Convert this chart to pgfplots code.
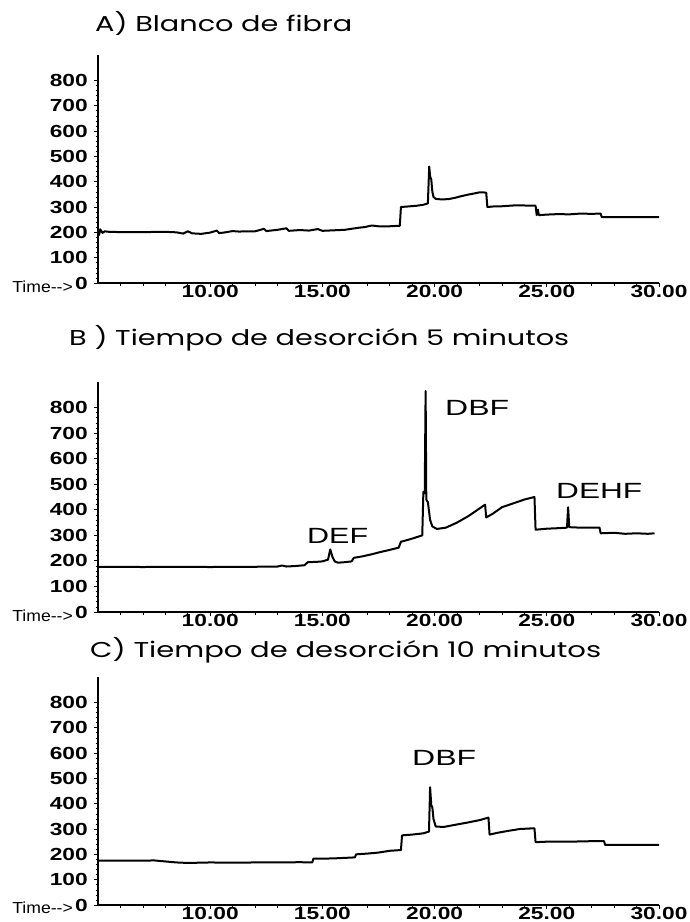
\documentclass[border=0pt]{standalone}
\usepackage{fontspec}
\setmainfont{Liberation Sans}
\newfontfamily\tickfont[FakeStretch=1.3]{Liberation Sans Bold}
\newfontfamily\timefont[FakeStretch=1.1]{Liberation Sans}
\newfontfamily\titlefont{Poppins}
\usepackage{graphicx}
\usepackage{pgfplots}
\pgfplotsset{compat=1.18}

\pgfplotsset{chrom/.style={
  scale only axis, width=561pt,
  xmin=5, xmax=30, ymin=0, ymax=900,
  axis x line*=bottom, axis y line*=left,
  axis line style={line width=1.6pt, -},
  xtick={10,15,20,25,30},
  xticklabels={10.00,15.00,20.00,25.00,30.00},
  minor xtick={6,7,8,9,11,12,13,14,16,17,18,19,21,22,23,24,26,27,28,29},
  ytick={0,100,...,800},
  minor y tick num=4,
  tick align=outside,
  major tick length=4pt, minor tick length=2.5pt,
  every tick/.style={line width=0.8pt, black},
  every minor tick/.style={line width=0.6pt, black},
  ticklabel style={font=\tickfont\fontsize{17.5}{17.5}\selectfont},
  xticklabel style={inner ysep=0pt, yshift=1.5pt},
  yticklabel style={inner xsep=6pt},
  /pgf/number format/assume math mode=true,
}}
\pgfplotsset{trace/.style={black, line width=2pt, line join=round, mark=none}}

\begin{document}
\begin{tikzpicture}
\useasboundingbox (0pt,0pt) rectangle (689pt,-922pt);

% ---------- Panel A ----------
\begin{axis}[chrom, height=228pt, at={(98pt,-283pt)}, anchor=south west]
\addplot[trace] coordinates {
(5.0,205) (5.05,190) (5.1,212) (5.2,198) (5.3,204) (5.5,202) (6,201) (7,201) (8,202)
(8.5,200) (8.8,195) (9.0,204) (9.2,196) (9.6,194) (10,199) (10.3,207) (10.4,197)
(10.6,199) (11,205) (11.3,203) (11.5,204) (12,204) (12.4,214) (12.5,205) (13,210)
(13.4,216) (13.5,206) (14,209) (14.4,207) (14.8,213) (15,206) (15.5,208) (16,210)
(16.3,214) (16.6,218) (16.9,221) (17.2,227) (17.5,224) (18,224) (18.45,226)
(18.5,300) (18.8,302) (19.2,305) (19.5,309) (19.7,314) (19.76,460) (19.8,420)
(19.85,410) (19.9,360) (19.95,340) (20.05,332) (20.3,330) (20.6,331) (20.9,336)
(21.2,343) (21.5,349) (21.8,354) (22.0,358) (22.3,357) (22.35,300) (22.6,302)
(23,303) (23.5,306) (24,306) (24.5,305) (24.55,268) (24.6,290) (24.65,268)
(25,270) (25.5,272) (26,271) (26.5,274) (27,273) (27.4,274) (27.45,260)
(28,260) (29,260) (30,260)
};
\end{axis}

% ---------- Panel B ----------
\begin{axis}[chrom, height=230pt, at={(98pt,-612pt)}, anchor=south west]
\addplot[trace] coordinates {
(5,177) (6,177) (7,176) (8,177) (9,177) (10,176) (11,177) (12,177) (13,178)
(13.2,182) (13.4,178) (13.8,180) (14.2,183) (14.35,195) (14.7,196) (15.0,198)
(15.25,205) (15.35,245) (15.45,215) (15.55,198) (15.7,193) (16.0,195) (16.3,198)
(16.4,212) (16.8,218) (17.2,226) (17.6,235) (18.0,243) (18.4,252) (18.5,275)
(18.8,282) (19.1,290) (19.45,300) (19.5,470) (19.56,465) (19.6,865) (19.63,440)
(19.7,430) (19.8,360) (19.9,335) (20.1,325) (20.5,330) (21.0,350) (21.5,375)
(22.0,405) (22.25,420) (22.3,370) (22.6,385) (23.0,410) (23.5,425) (24.0,440)
(24.45,450) (24.5,322) (25.0,326) (25.5,328) (25.9,330) (25.95,410) (26.0,332)
(26.5,330) (27.0,330) (27.35,330) (27.4,308) (28,310) (28.5,306) (29,308)
(29.5,306) (29.8,308)
};
\end{axis}

% ---------- Panel C ----------
\begin{axis}[chrom, height=228pt, at={(98pt,-905pt)}, anchor=south west]
\addplot[trace] coordinates {
(5,175) (6,175) (7,175) (7.5,176) (8,172) (8.5,168) (9,166) (10,168) (11,167)
(12,168) (13,168) (14,169) (14.55,168) (14.6,183) (15,183) (15.5,184) (16,186)
(16.45,188) (16.5,200) (17,203) (17.5,207) (18,214) (18.5,217) (18.55,275)
(19,278) (19.5,283) (19.75,290) (19.8,465) (19.85,395) (19.9,385) (19.95,340)
(20.05,310) (20.4,308) (21,318) (21.5,326) (22,335) (22.4,345) (22.45,278)
(22.8,285) (23.3,293) (23.8,300) (24.45,303) (24.5,248) (25,250) (26,250)
(27,252) (27.55,252) (27.6,237) (28,237) (29,237) (30,237)
};
\end{axis}

% ---------- Titles ----------
\node[anchor=base west, inner sep=0pt] at (95pt,-31pt)
  {\resizebox{257pt}{\height}{\titlefont\fontsize{21.5}{21.5}\selectfont A) Blanco de fibra}};
\node[anchor=base west, inner sep=0pt] at (69pt,-345pt)
  {\resizebox{500pt}{\height}{\titlefont\fontsize{21.5}{21.5}\selectfont B ) Tiempo de desorción 5 minutos}};
\node[anchor=base west, inner sep=0pt] at (90pt,-657pt)
  {\resizebox{511pt}{\height}{\titlefont\fontsize{21.5}{21.5}\selectfont C) Tiempo de desorción 10 minutos}};

% ---------- Time--> labels ----------
\foreach \yy in {292,621,913}
  \node[anchor=base east, inner sep=0pt] at (73pt,-\yy pt)
    {\timefont\fontsize{16}{16}\selectfont Time-{}-{}>};

% ---------- Peak labels ----------
\node[anchor=base west, inner sep=0pt] at (445pt,-415pt)
  {\resizebox{64pt}{\height}{\fontsize{22}{22}\selectfont DBF}};
\node[anchor=base west, inner sep=0pt] at (307pt,-543pt)
  {\resizebox{61pt}{\height}{\fontsize{22}{22}\selectfont DEF}};
\node[anchor=base west, inner sep=0pt] at (556pt,-498pt)
  {\resizebox{86pt}{\height}{\fontsize{22}{22}\selectfont DEHF}};
\node[anchor=base west, inner sep=0pt] at (412pt,-765pt)
  {\resizebox{64pt}{\height}{\fontsize{22}{22}\selectfont DBF}};
\end{tikzpicture}
\end{document}
